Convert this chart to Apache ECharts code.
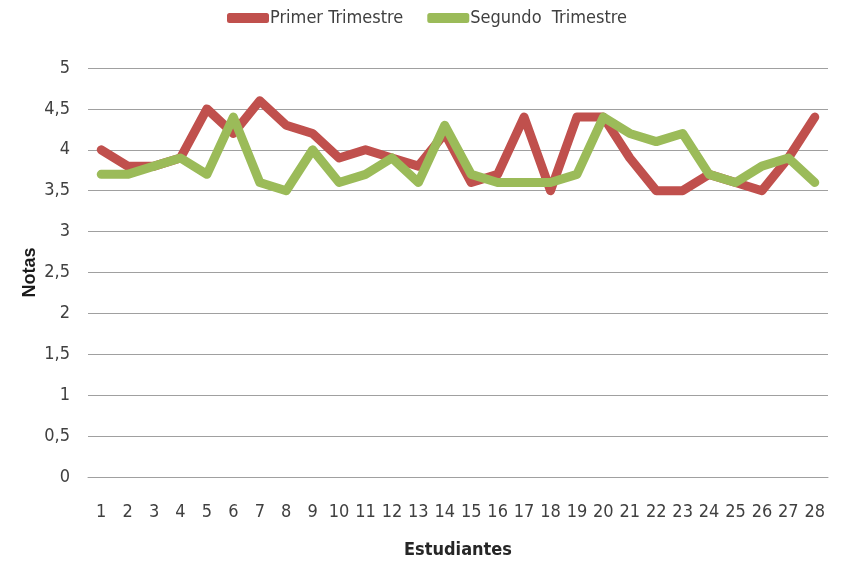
<!DOCTYPE html>
<html>
<head>
<meta charset="utf-8">
<script src="https://cdn.jsdelivr.net/npm/echarts@6/dist/echarts.min.js"></script>
<style>
    html, body { margin: 0; padding: 0; background: #fff; }
    #notas-line { width: 842px; height: 562px; }
</style>
</head>
<body>
<div id="notas-line"></div>
<script>
// datos
var estudiantes = ['1', '2', '3', '4', '5', '6', '7', '8', '9', '10', '11', '12', '13', '14',
    '15', '16', '17', '18', '19', '20', '21', '22', '23', '24', '25', '26', '27', '28'];
var primerTrimestre = [4.0, 3.8, 3.8, 3.9, 4.5, 4.2, 4.6, 4.3, 4.2, 3.9, 4.0, 3.9, 3.8, 4.2,
    3.6, 3.7, 4.4, 3.5, 4.4, 4.4, 3.9, 3.5, 3.5, 3.7, 3.6, 3.5, 3.9, 4.4];
var segundoTrimestre = [3.7, 3.7, 3.8, 3.9, 3.7, 4.4, 3.6, 3.5, 4.0, 3.6, 3.7, 3.9, 3.6, 4.3,
    3.7, 3.6, 3.6, 3.6, 3.7, 4.4, 4.2, 4.1, 4.2, 3.7, 3.6, 3.8, 3.9, 3.6];
var serieNames = ['Primer Trimestre', 'Segundo  Trimestre'];

var narrow = "'Liberation Sans Narrow', 'DejaVu Sans Condensed', 'Roboto', sans-serif";

function notasFuc() {
    var chart = echarts.init(document.getElementById('notas-line'));
    chart.setOption(notasLine());
}

function notasLine() {
    var option = {
        animation: false,
        legend: {
            data: serieNames,
            top: 4,
            left: 222,
            icon: 'roundRect',
            itemWidth: 42,
            itemHeight: 10,
            itemGap: 24,
            textStyle: {
                color: '#404040',
                fontFamily: narrow,
                fontSize: 18,
                padding: [0, 0, 0, -4]
            }
        },
        grid: {
            left: 88,
            right: 14,
            top: 68,
            bottom: 85,
            outerBoundsMode: 'none'
        },
        xAxis: {
            type: 'category',
            data: estudiantes,
            boundaryGap: true,
            name: 'Estudiantes',
            nameLocation: 'middle',
            nameGap: 64,
            nameTextStyle: {
                color: '#262626',
                fontFamily: narrow,
                fontWeight: 'bold',
                fontSize: 18
            },
            axisTick: { show: false },
            axisLine: {
                show: true,
                lineStyle: { color: '#A0A0A0', width: 1 }
            },
            axisLabel: {
                interval: 0,
                margin: 26,
                color: '#404040',
                fontFamily: narrow,
                fontSize: 18
            }
        },
        yAxis: {
            type: 'value',
            min: 0,
            max: 5,
            interval: 0.5,
            name: 'Notas',
            nameLocation: 'middle',
            nameGap: 49,
            nameMoveOverlap: false,
            nameTextStyle: {
                color: '#1a1a1a',
                fontFamily: "'Liberation Sans', Arial, sans-serif",
                fontWeight: 'bold',
                fontSize: 18
            },
            axisLine: { show: false },
            axisTick: { show: false },
            axisLabel: {
                margin: 18,
                color: '#404040',
                fontFamily: narrow,
                fontSize: 18,
                formatter: function (v) {
                    return String(v).replace('.', ',');
                }
            },
            splitLine: {
                show: true,
                lineStyle: { color: '#A0A0A0', width: 1 }
            }
        },
        series: [
            {
                name: serieNames[0],
                type: 'line',
                data: primerTrimestre,
                symbol: 'none',
                itemStyle: { color: '#C0504D' },
                lineStyle: { color: '#C0504D', width: 9, cap: 'round', join: 'round' },
                z: 2
            },
            {
                name: serieNames[1],
                type: 'line',
                data: segundoTrimestre,
                symbol: 'none',
                itemStyle: { color: '#9BBB59' },
                lineStyle: { color: '#9BBB59', width: 9, cap: 'round', join: 'round' },
                z: 3
            }
        ]
    };
    return option;
}

notasFuc();
</script>
</body>
</html>
